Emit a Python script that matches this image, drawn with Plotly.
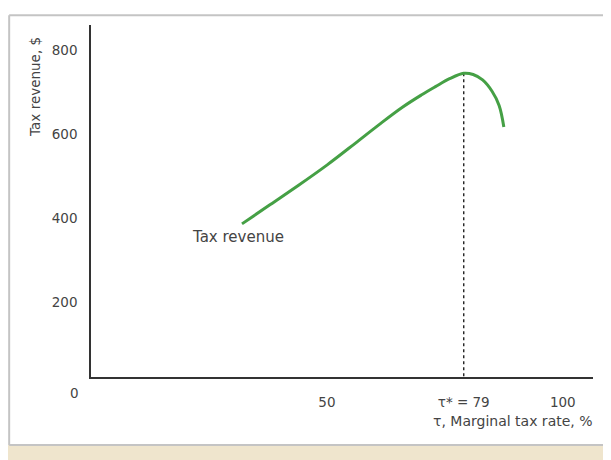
import plotly.graph_objects as go

# Data
tau = [32, 38, 44, 50, 56, 61, 66, 70, 73, 76, 79, 81, 83, 85, 86.5, 87.5]
revenue = [386, 432, 478, 526, 578, 622, 664, 693, 713, 732, 745, 742, 729, 702, 668, 617]
tau_star = 79
peak_revenue = 745

x_tickvals = [50, 79, 100]
x_ticktext = ["50", "τ* = 79", "100"]
y_tickvals = [200, 400, 600, 800]
y_ticktext = ["200", "400", "600", "800"]

FONT = "DejaVu Sans, Liberation Sans, Arial, sans-serif"
TXT = "#444444"

fig = go.Figure()

fig.add_trace(go.Scatter(
    x=[tau_star, tau_star], y=[peak_revenue, 0],
    mode="lines", line=dict(color="#222222", width=1.4, dash="dot"),
    hoverinfo="skip", showlegend=False,
))
fig.add_trace(go.Scatter(
    x=tau, y=revenue, mode="lines", line_shape="spline",
    line=dict(color="#45a045", width=3),
    showlegend=False,
))

# page body adds an 8px offset; margins compensate so the plot sits where the reference has it
fig.update_layout(
    width=611, height=460,
    margin=dict(l=83, r=26, t=17, b=91),
    paper_bgcolor="white", plot_bgcolor="white",
    font=dict(family=FONT, size=13, color=TXT),
    xaxis=dict(
        range=[0, 106.4], showgrid=False, zeroline=False,
        showline=True, linecolor="#333333", linewidth=1.5,
        tickvals=x_tickvals, ticktext=x_ticktext,
        ticks="outside", ticklen=12, tickcolor="rgba(0,0,0,0)",
        tickfont=dict(size=13.5, color=TXT),
    ),
    yaxis=dict(
        range=[21, 860], showgrid=False, zeroline=False,
        showline=True, linecolor="#333333", linewidth=1.5,
        tickvals=y_tickvals, ticktext=y_ticktext,
        ticks="outside", ticklen=9, tickcolor="rgba(0,0,0,0)",
        tickfont=dict(size=13.5, color=TXT),
    ),
    shapes=[
        dict(type="rect", xref="paper", yref="paper", x0=-0.2, x1=1.05, y0=-0.193, y1=-0.25,
             fillcolor="#efe5cd", line=dict(width=0), layer="below"),
        dict(type="line", xref="paper", yref="paper", x0=-0.163, x1=1.05, y0=1.028, y1=1.028,
             line=dict(color="#c4c4c4", width=2)),
        dict(type="line", xref="paper", yref="paper", x0=-0.163, x1=-0.163, y0=1.028, y1=-0.193,
             line=dict(color="#c4c4c4", width=2)),
        dict(type="line", xref="paper", yref="paper", x0=-0.163, x1=1.05, y0=-0.193, y1=-0.193,
             line=dict(color="#c4c4c4", width=2)),
    ],
    annotations=[
        dict(text="Tax revenue", x=31.1, y=355, xref="x", yref="y",
             showarrow=False, font=dict(size=15, color=TXT)),
        dict(text="0", x=-0.032, y=-0.045, xref="paper", yref="paper",
             xanchor="center", yanchor="middle",
             showarrow=False, font=dict(size=13.5, color=TXT)),
        dict(text="τ, Marginal tax rate, %", x=1.004, y=-0.125, xref="paper", yref="paper",
             xanchor="right", yanchor="middle", showarrow=False, font=dict(size=14, color=TXT)),
        dict(text="Tax revenue, $", x=-0.1116, y=0.824, xref="paper", yref="paper",
             textangle=-90, xanchor="center", yanchor="middle", showarrow=False,
             font=dict(size=13.5, color=TXT)),
    ],
)

fig.write_html("out.html")
